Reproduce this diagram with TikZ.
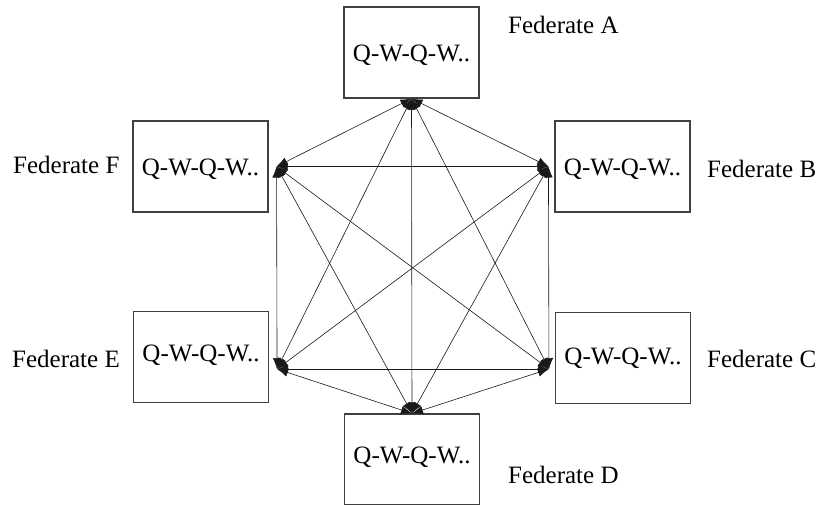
\documentclass[tikz,border=0pt]{standalone}
\usepackage{fontspec}
\setmainfont{Liberation Serif}
\usetikzlibrary{arrows.meta}
\begin{document}
\begin{tikzpicture}[x=1pt,y=-1pt,
  fedbox/.style={draw=black!75,line width=1.1pt,minimum width=135pt,minimum height=91pt,
    inner sep=0pt,font=\fontsize{25}{30}\selectfont,text height=17pt,text depth=0pt},
  fedlabel/.style={anchor=base west,inner sep=0pt,font=\fontsize{25}{30}\selectfont},
  link/.style={draw=black!90,line width=0.6pt,
    {Latex[length=11pt,width=8.5pt]}-{Latex[length=11pt,width=8.5pt]}}]
\useasboundingbox (0,0) rectangle (817,504);

% federate boxes
\node[fedbox] (bA) at (411.5,52.5) {Q-W-Q-W..};
\node[fedbox] (bB) at (622.5,166.5) {Q-W-Q-W..};
\node[fedbox,text depth=4pt] (bC) at (623,358) {Q-W-Q-W..};
\node[fedbox,text depth=9pt] (bD) at (412,459.5) {Q-W-Q-W..};
\node[fedbox,text depth=9pt] (bE) at (201,357) {Q-W-Q-W..};
\node[fedbox] (bF) at (200.5,166.5) {Q-W-Q-W..};

% labels
\node[fedlabel] (lA) at (508,33) {Federate A};
\node[fedlabel] (lB) at (707,177) {Federate B};
\node[fedlabel] (lC) at (707,367) {Federate C};
\node[fedlabel] (lD) at (508,483) {Federate D};
\node[fedlabel] (lE) at (12,367) {Federate E};
\node[fedlabel] (lF) at (13,173) {Federate F};

% connection hubs
\coordinate (hA) at (bA.south);
\coordinate (hD) at (bD.north);
\coordinate (hB) at ([xshift=-6pt]bB.west);
\coordinate (hC) at ([xshift=-6pt,yshift=-11pt]bC.west);
\coordinate (hE) at ([xshift=8pt,yshift=-12pt]bE.east);
\coordinate (hF) at ([xshift=8pt]bF.east);

% full mesh of links
\foreach \p/\q in {hA/hB,hA/hC,hA/hD,hA/hE,hA/hF,
                   hB/hC,hB/hD,hB/hE,hB/hF,
                   hC/hD,hC/hE,hC/hF,
                   hD/hE,hD/hF,
                   hE/hF}
  \draw[link] (\p) -- (\q);
\end{tikzpicture}
\end{document}
